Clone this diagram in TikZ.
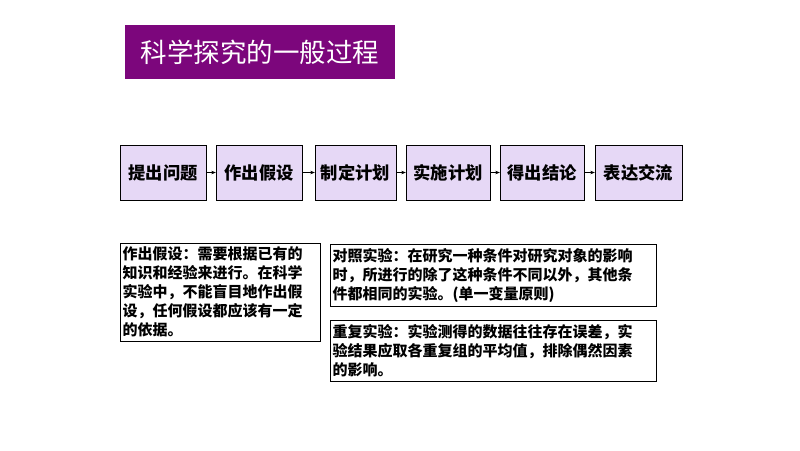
\documentclass[tikz,border=0pt]{standalone}
\usepackage{fontspec}
\usepackage{xcolor}
\usepackage{tikz}
\usetikzlibrary{arrows.meta,positioning}
\newfontfamily\cjk{Noto Sans CJK SC}
\definecolor{titlepurple}{RGB}{124,6,124}
\definecolor{steplilac}{RGB}{230,216,246}

\begin{document}
\begin{tikzpicture}[x=1pt,y=-1pt,thin]
    % `titlebar' is the purple heading at the top.
    % `stepbox' is used for the six steps of the process.
    % `notebox' is used for the explaining texts below.
    \tikzstyle{titlebar} = [fill=titlepurple,text=white,inner sep=0pt,
        font=\cjk\fontsize{26.5}{30}\selectfont]
    \tikzstyle{stepbox} = [draw,fill=steplilac,minimum height=55pt,inner sep=0pt,
        font=\cjk\bfseries\fontsize{17.3}{20}\selectfont]
    \tikzstyle{notebox} = [draw,anchor=north west,align=left,inner xsep=2.5pt,inner ysep=0pt,
        font=\cjk\bfseries\fontsize{15}{19}\selectfont]
    \tikzstyle{flow} = [-{Stealth[length=4.5pt,width=3.5pt]},semithick]
    %
    \useasboundingbox (0,0) rectangle (800,450);
    % Heading.
    \node[titlebar,minimum width=270pt,minimum height=54pt] (title) at (260,52) {科学探究的一般过程};
    % Steps.
    \node[stepbox,minimum width=86pt] (s1) at (163,172.5) {提出问题};
    \node[stepbox,minimum width=86pt] (s2) at (259,172.5) {作出假设};
    \node[stepbox,minimum width=81pt] (s3) at (355.5,172.5) {制定计划};
    \node[stepbox,minimum width=84pt] (s4) at (448,172.5) {实施计划};
    \node[stepbox,minimum width=84pt] (s5) at (542,172.5) {得出结论};
    \node[stepbox,minimum width=87pt] (s6) at (638.5,172.5) {表达交流};
    \foreach \a/\b in {s1/s2,s2/s3,s3/s4,s4/s5,s5/s6}
        \draw[flow] (\a.east) -- (\b.west);
    % Notes.
    \node[notebox,text width=195pt,minimum height=98pt] (hypo) at (120,243)
        {作出假设：需要根据已有的\\知识和经验来进行。在科学\\实验中，不能盲目地作出假\\设，任何假设都应该有一定\\的依据。};
    \node[notebox,text width=321pt,minimum height=62pt] (ctrl) at (330,244)
        {对照实验：在研究一种条件对研究对象的影响\\时，所进行的除了这种条件不同以外，其他条\\件都相同的实验。(单一变量原则)};
    \node[notebox,text width=321pt,minimum height=61pt] (rep) at (330,320)
        {重复实验：实验测得的数据往往存在误差，实\\验结果应取各重复组的平均值，排除偶然因素\\的影响。};
\end{tikzpicture}
\end{document}
